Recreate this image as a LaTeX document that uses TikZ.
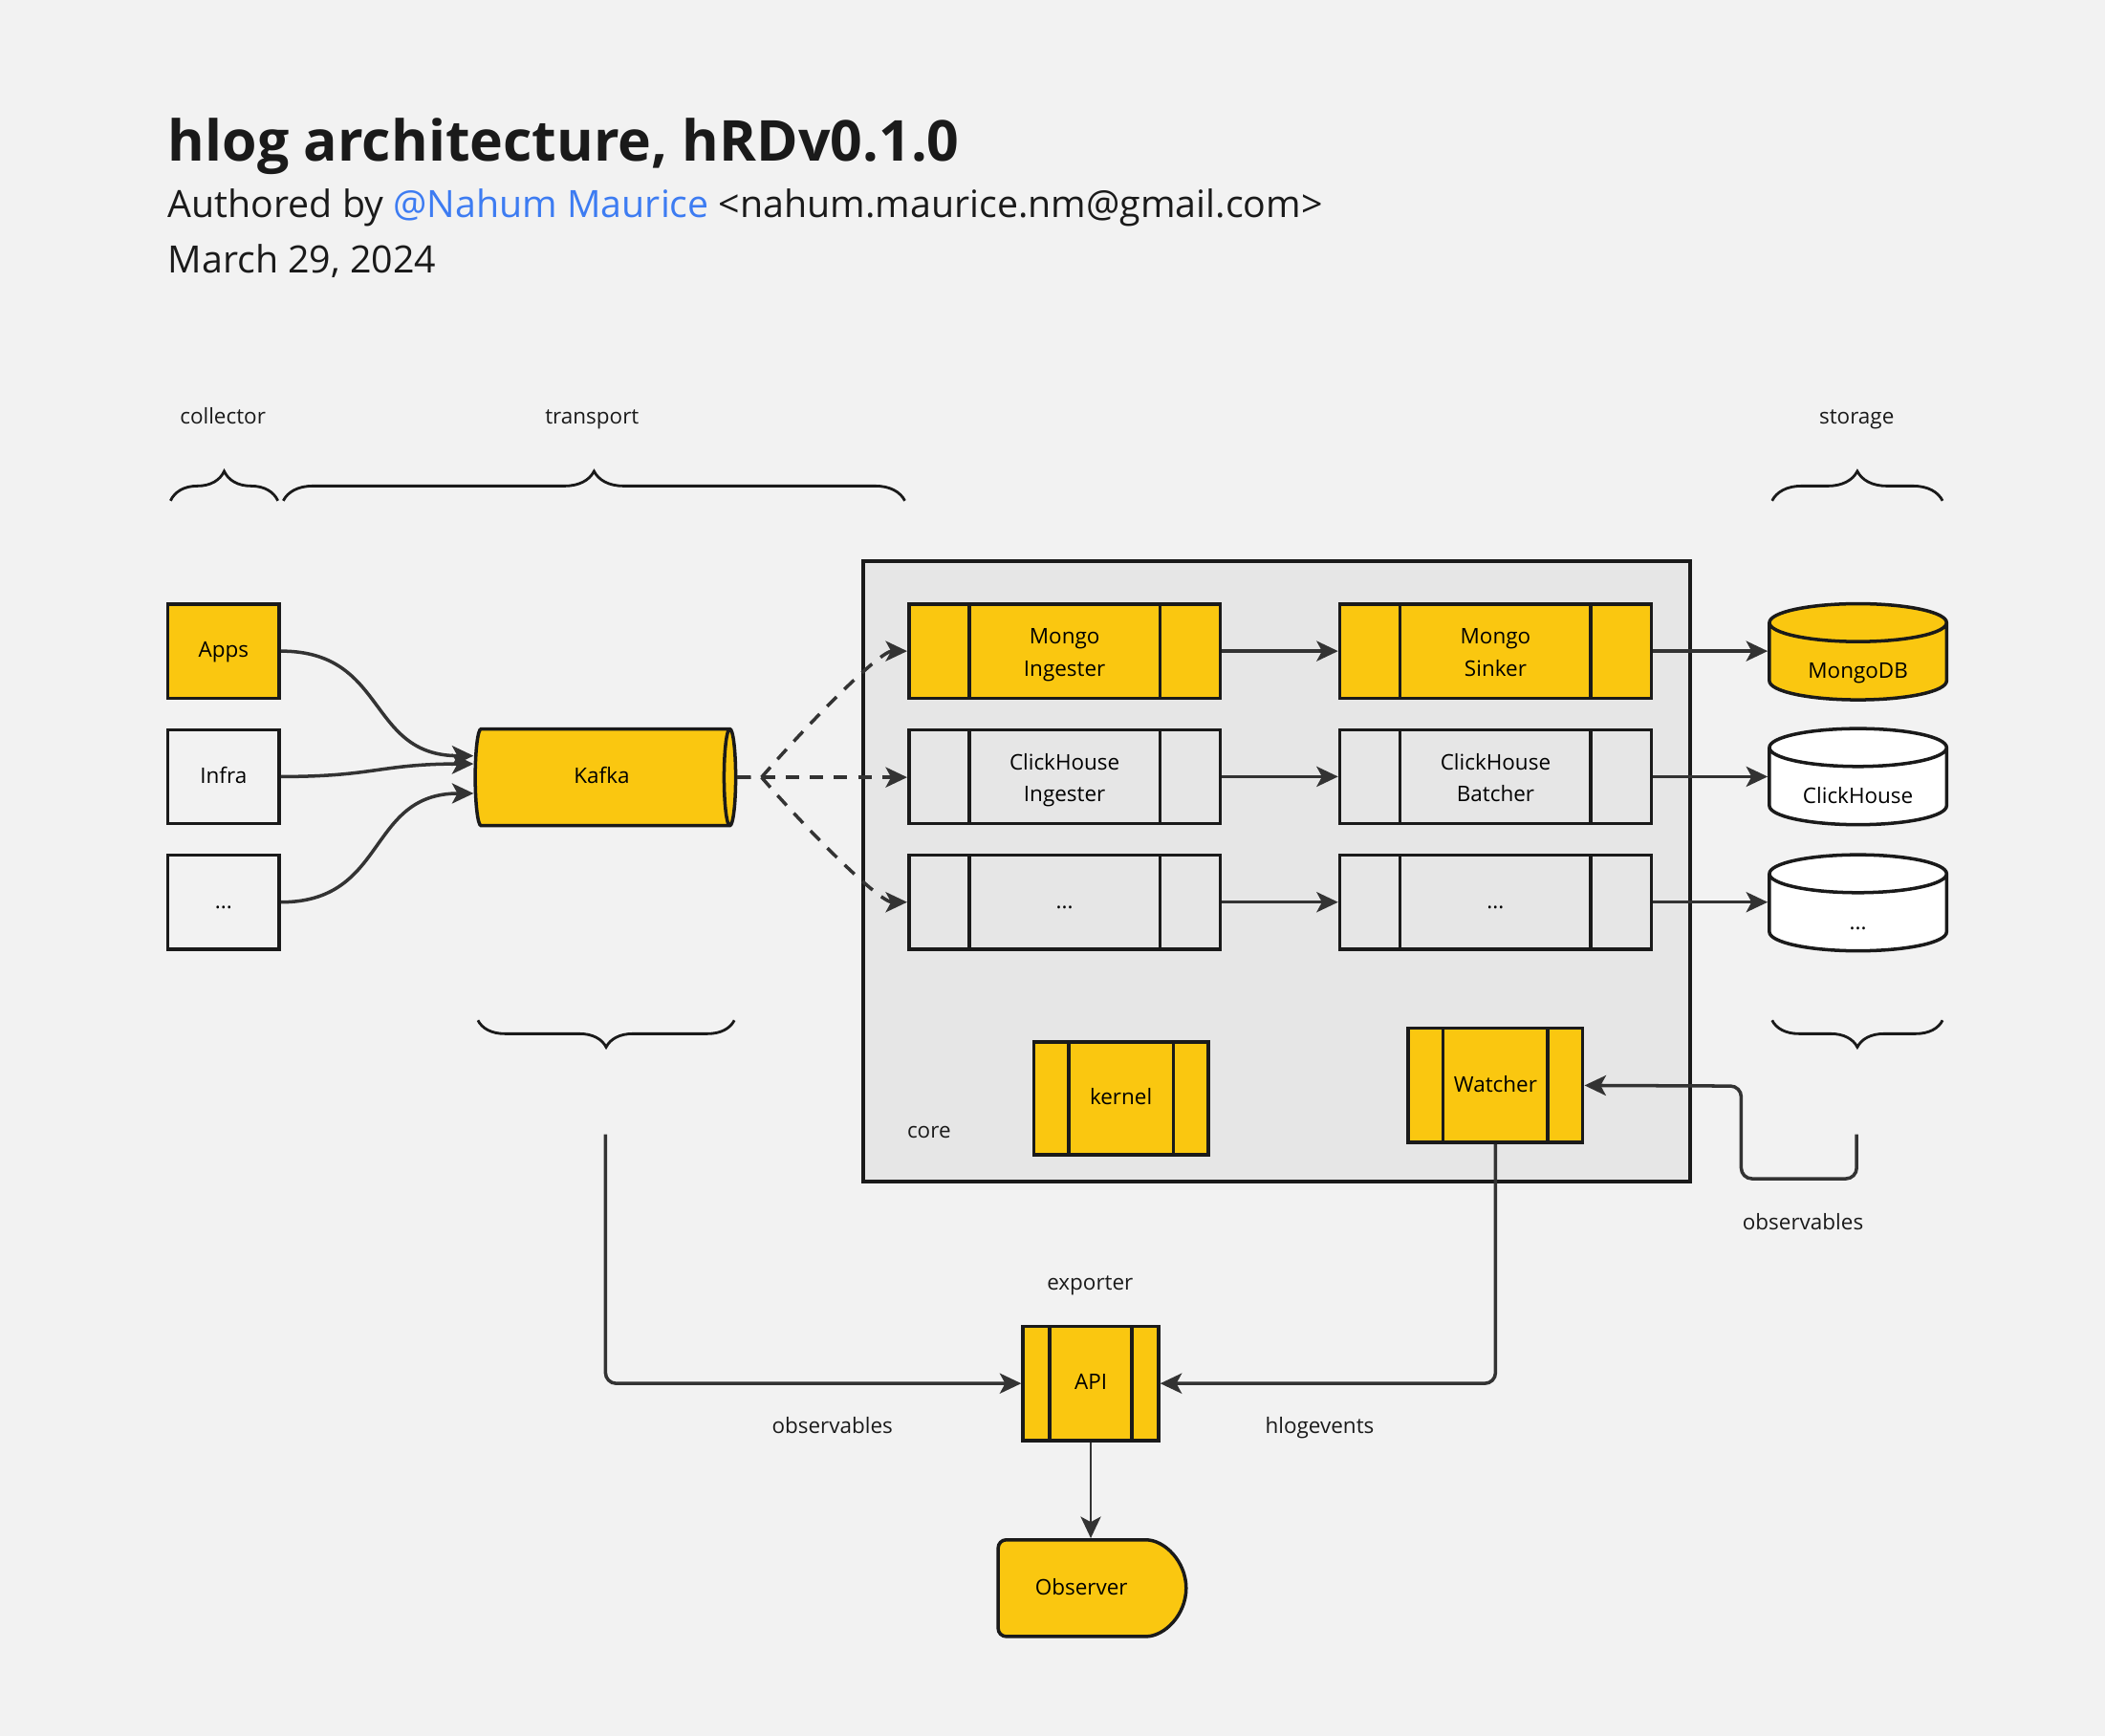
\documentclass[tikz,border=0pt]{standalone}
\usepackage{fontspec}
\setmainfont{Open Sans}
\usetikzlibrary{arrows.meta,calc,decorations.pathreplacing,shapes.geometric,shapes.misc}
\definecolor{hlogbg}{HTML}{F2F2F2}
\definecolor{hlogcore}{HTML}{E6E6E6}
\definecolor{hlogyellow}{HTML}{FAC710}
\definecolor{hlogline}{HTML}{1A1A1A}
\definecolor{hlogarrow}{HTML}{333333}
\definecolor{hlogblue}{HTML}{3D7CF2}
\newcommand{\hlogfont}{\fontsize{16}{24}\selectfont}
\newcommand{\twolines}[2]{\begin{tabular}{@{}c@{}}\rule{0pt}{21pt}#1\\#2\end{tabular}}
\tikzset{
	x=1pt, y=-1pt,
	lbl/.style={font=\hlogfont, text=hlogline, inner sep=0pt, execute at begin node=\strut},
	srcbox/.style={draw=hlogline, line width=2.5pt, fill=hlogbg, minimum width=83pt, minimum height=70pt,
		font=\hlogfont, inner sep=0pt, execute at begin node=\strut},
	procbox/.style={draw=hlogline, line width=2.5pt, fill=hlogcore, font=\hlogfont, inner sep=0pt,
		minimum width=232pt, minimum height=70pt, execute at begin node=\strut,
		path picture={
			\draw[hlogline, line width=2.5pt] ([xshift=#1]path picture bounding box.north west) -- ([xshift=#1]path picture bounding box.south west);
			\draw[hlogline, line width=2.5pt] ([xshift=-#1]path picture bounding box.north east) -- ([xshift=-#1]path picture bounding box.south east);
		}},
	procbox/.default=45pt,
	store/.style={cylinder, shape border rotate=90, aspect=0.34, draw=hlogline, line width=2.5pt, fill=white,
		minimum width=132pt, minimum height=71pt, font=\hlogfont, inner sep=0pt, text width=83pt, align=center,
		text height=26pt, text depth=2pt, anchor=shape center},
	flow/.style={draw=hlogarrow, line width=2.5pt, -{Stealth[length=16pt, width=15pt, inset=4pt]}},
	brc/.style={draw=hlogline, line width=2pt, decorate, decoration={brace, amplitude=22pt}},
	brcdown/.style={draw=hlogline, line width=2pt, decorate, decoration={brace, mirror, amplitude=20pt}},
}

\begin{document}
\begin{tikzpicture}
	%%%%% PAGE %%%%%
	\fill[hlogbg] (0,0) rectangle (1568,1293);
	\useasboundingbox (0,0) rectangle (1568,1293);
	
	%%%%% HEADER %%%%%
	\node[anchor=base west, inner sep=0pt, text=hlogline, font=\fontsize{42}{50}\selectfont\bfseries] (title) at (125,120) {hlog architecture, hRDv0.1.0};
	\node[anchor=base west, inner sep=0pt, text=hlogline, font=\fontsize{28}{34}\selectfont] (author) at (125,162) {Authored by \textcolor{hlogblue}{@Nahum Maurice} <nahum.maurice.nm@gmail.com>};
	\node[anchor=base west, inner sep=0pt, text=hlogline, font=\fontsize{28}{34}\selectfont] (date) at (125,203) {March 29, 2024};
	
	%%%%% STAGES %%%%%
	\node[lbl] (collector) at (166,311) {collector};
	\node[lbl] (transport) at (441,311) {transport};
	\node[lbl] (storage) at (1383,311) {storage};
	\draw[brc] (127,373) -- (207,373);
	\draw[brc] (211,373) -- (674,373);
	\draw[brc] (1320,373) -- (1447,373);
	\draw[brcdown] (356,760) -- (547,760);
	\draw[brcdown] (1320,760) -- (1447,760);
	\coordinate (tport) at (451,845);
	\coordinate (sport) at (1383,845);
	
	%%%%% COLLECTOR %%%%%
	\node[srcbox, fill=hlogyellow] (apps) at (166.5,485) {Apps};
	\node[srcbox] (infra) at (166.5,578.5) {Infra};
	\node[srcbox] (more) at (166.5,672) {...};
	
	%%%%% TRANSPORT %%%%%
	\node[cylinder, aspect=0.36, draw=hlogline, line width=2.5pt, fill=hlogyellow, minimum width=72pt, minimum height=194pt,
		font=\hlogfont, inner sep=0pt, execute at begin node=\strut, anchor=shape center] (kafka) at (451,579) {Kafka};
	
	%%%%% CORE %%%%%
	\draw[hlogline, line width=2.5pt, fill=hlogcore] (643,418) rectangle (1259,880);
	\node[lbl] (core) at (692,843) {core};
	
	\node[procbox, fill=hlogyellow] (mingest) at (793,485) {\twolines{Mongo}{Ingester}};
	\node[procbox, fill=hlogyellow] (msink) at (1114,485) {\twolines{Mongo}{Sinker}};
	\node[procbox] (cingest) at (793,578.5) {\twolines{ClickHouse}{Ingester}};
	\node[procbox] (cbatch) at (1114,578.5) {\twolines{ClickHouse}{Batcher}};
	\node[procbox] (xingest) at (793,672) {...};
	\node[procbox] (xsink) at (1114,672) {...};
	
	\node[procbox=26pt, fill=hlogyellow, minimum width=130pt, minimum height=84pt] (kernel) at (835,818) {kernel};
	\node[procbox=26pt, fill=hlogyellow, minimum width=130pt, minimum height=85pt] (watcher) at (1114,808.5) {Watcher};
	
	%%%%% STORAGE %%%%%
	\node[store, fill=hlogyellow] (mongodb) at (1384,485.5) {MongoDB};
	\node[store] (clickhouse) at (1384,578.5) {ClickHouse};
	\node[store] (xdb) at (1384,672.5) {...};
	
	%%%%% EXPORTER %%%%%
	\node[lbl] (exporter) at (812,956) {exporter};
	\node[procbox=20pt, fill=hlogyellow, minimum width=101pt, minimum height=85pt] (api) at (812.5,1030.5) {API};
	\node[rounded rectangle, rounded rectangle left arc=none, rounded corners=6pt, draw=hlogline, line width=2.5pt, fill=hlogyellow, minimum width=140pt, minimum height=72pt,
		font=\hlogfont, inner sep=0pt, execute at begin node=\strut] (observer) at (812.5,1183) {\hspace*{-14pt}Observer};
	\node[lbl] (obsleft) at (620,1063) {observables};
	\node[lbl] (events) at (983,1063) {hlogevents};
	\node[lbl] (obsright) at (1343,911) {observables};
	
	%%%%% CONNECTORS %%%%%
	\draw[flow] (apps.east) .. controls +(80,0) and +(-80,0) .. ($(kafka.west)+(0,-16)$);
	\draw[flow] (infra.east) .. controls +(70,0) and +(-70,0) .. ($(kafka.west)+(0,-10)$);
	\draw[flow] (more.east) .. controls +(80,0) and +(-80,0) .. ($(kafka.west)+(0,12)$);
	
	\coordinate (fan) at ($(kafka.east)+(18,0)$);
	\draw[flow, dash pattern=on 10pt off 8pt] (kafka.east) -- (fan) .. controls +(40,-46) and +(-20,0) .. (mingest.west);
	\draw[flow, dash pattern=on 10pt off 8pt] (kafka.east) -- (kafka.east -| cingest.west);
	\draw[flow, dash pattern=on 10pt off 8pt] (kafka.east) -- (fan) .. controls +(40,46) and +(-20,0) .. (xingest.west);
	
	\draw[flow] (mingest.east) -- (msink.west);
	\draw[flow] (cingest.east) -- (cbatch.west);
	\draw[flow] (xingest.east) -- (xsink.west);
	\draw[flow] (msink.east) -- (msink.east -| mongodb.west);
	\draw[flow] (cbatch.east) -- (cbatch.east -| clickhouse.west);
	\draw[flow] (xsink.east) -- (xsink.east -| xdb.west);
	
	\draw[flow, rounded corners=8pt] (sport) -- (1383,878) -| (1297,809) -- (watcher.east);
	\draw[flow, rounded corners=8pt] (watcher.south) |- (api.east);
	\draw[flow, rounded corners=8pt] (tport) |- (api.west);
	\draw[flow, line width=2pt] (api.south) -- (observer.north);
\end{tikzpicture}
\end{document}
